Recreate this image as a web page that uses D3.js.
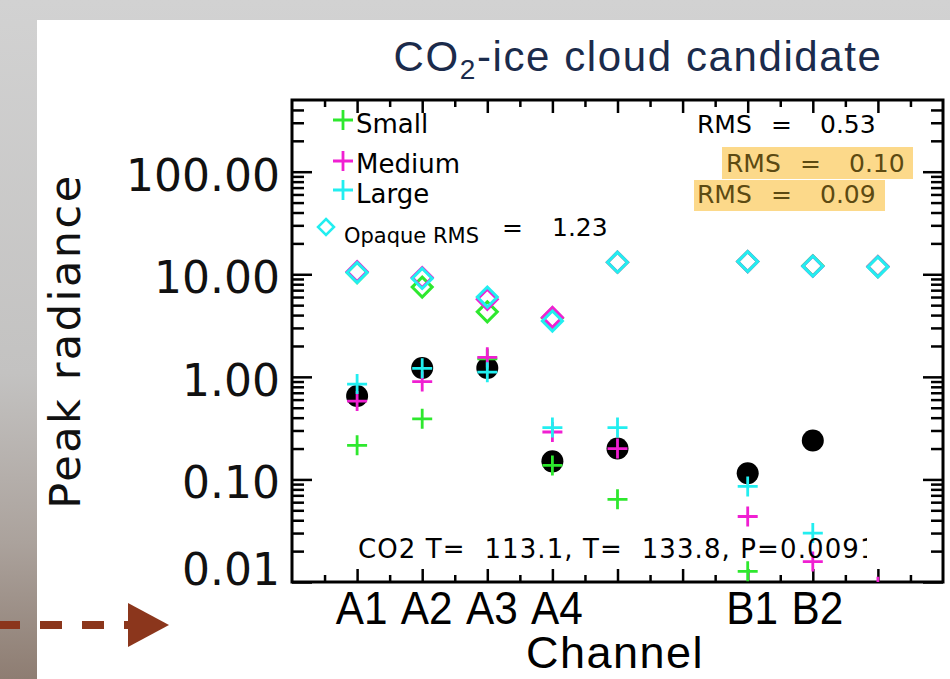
<!DOCTYPE html>
<html><head><meta charset="utf-8">
<script src="https://cdn.jsdelivr.net/npm/d3@7"></script>
<style>body{margin:0;background:#fff} svg{display:block}</style>
</head><body><svg id="c" width="950" height="679"></svg>
<script>
// ---- data ----
const channels = ["A1","A2","A3","A4","A5","B1","B2","B3"];
const channelPos = [1,2,3,4,5,7,8,9];
const tickChannels = ["A1","A2","A3","A4","B1","B2"];
const observed = [0.65, 1.22, 1.22, 0.15, 0.20, 0.115, 0.24, null];
const small    = [0.215, 0.39, 1.5, 0.137, 0.064, 0.0127, null, null];
const medium   = [0.58, 0.90, 1.55, 0.29, 0.20, 0.0435, 0.0158, 0.0090];
const large    = [0.85, 1.21, 1.11, 0.32, 0.32, 0.0855, 0.030, null];
const opaqueSmall  = [10.4, 7.5, 4.3, 3.75, 13.1, 13.3, 12.1, 11.9];
const opaqueMedium = [10.6, 9.3, 5.7, 3.8, 13.1, 13.3, 12.0, 11.9];
const opaqueLarge  = [10.4, 9.1, 6.0, 3.5, 13.1, 13.3, 12.0, 11.8];
const yTicks = [0.01, 0.1, 1, 10, 100];
const legendNames = ["Small","Medium","Large"];
const rmsValues = ["0.53","0.10","0.09"];
const opaqueRms = "1.23";
const fitText = "CO2 T=  113.1, T=  133.8, P=0.0091";

const colSmall = "#2ee82e", colMedium = "#f01fd2", colLarge = "#22eef0";

const svg = d3.select("#c");
const defs = svg.append("defs");
const bg = defs.append("linearGradient").attr("id","bg").attr("x1",0).attr("y1",0).attr("x2",0).attr("y2",1);
[["0%","#d2d2d2"],["55%","#c3c2c1"],["80%","#aba29c"],["100%","#8e7d72"]].forEach(s=>bg.append("stop").attr("offset",s[0]).attr("stop-color",s[1]));
svg.append("rect").attr("width",950).attr("height",679).attr("fill","url(#bg)");
svg.append("rect").attr("x",37).attr("y",20).attr("width",913).attr("height",659).attr("fill","#fff");

// arrow
const arrowY = 625;
svg.append("line").attr("x1",0).attr("x2",130).attr("y1",arrowY).attr("y2",arrowY)
  .attr("stroke","#8b361c").attr("stroke-width",8).attr("stroke-dasharray","22,20").attr("stroke-dashoffset",2);
svg.append("path").attr("d",`M128,${arrowY-22}L169,${arrowY}L128,${arrowY+22}Z`).attr("fill","#8b361c");

// title
const title = svg.append("text").attr("x",638).attr("y",71).attr("text-anchor","middle")
  .attr("font-family","Liberation Sans, Arial, sans-serif").attr("font-size",42).attr("letter-spacing",1.6).attr("fill","#1b2b4b");
title.append("tspan").text("CO");
title.append("tspan").attr("font-size",28).attr("dy",8).text("2");
title.append("tspan").attr("dy",-8).text("-ice cloud candidate");

const M = {left:292, right:943, top:100, bottom:582};
const x = d3.scaleLinear().domain([0,10]).range([M.left, M.right]);
const y = d3.scaleLog().domain([0.01, 500]).range([M.bottom, M.top]);

const minorY = [];
for (let e=-2; e<=2; e++) for (let m=2; m<=9; m++){ const v=+(m*Math.pow(10,e)).toPrecision(3); if (v<500) minorY.push(v); }
const majorX = d3.range(1,10);
const minorX = d3.range(0.5,10,1);

function styleAxis(g){ g.select(".domain").remove(); g.selectAll(".tick line").attr("stroke","#000").attr("stroke-width",2.5); }

// left / right axes
svg.append("g").attr("transform",`translate(${M.left},0)`)
  .call(d3.axisLeft(y).tickValues(yTicks).tickFormat(d3.format(".2f")).tickSize(-20).tickPadding(12))
  .call(styleAxis)
  .call(g=>g.selectAll("text").attr("font-family","DejaVu Sans, sans-serif").attr("font-size",44).attr("fill","#111").attr("dy","0.42em"))
  .call(g=>g.selectAll(".tick").filter(d=>d===0.01).select("text").attr("dy","0.05em"));
svg.append("g").attr("transform",`translate(${M.left},0)`)
  .call(d3.axisLeft(y).tickValues(minorY).tickFormat("").tickSize(-12)).call(styleAxis);
svg.append("g").attr("transform",`translate(${M.right},0)`)
  .call(d3.axisRight(y).tickValues(yTicks).tickFormat("").tickSize(-20)).call(styleAxis);
svg.append("g").attr("transform",`translate(${M.right},0)`)
  .call(d3.axisRight(y).tickValues(minorY).tickFormat("").tickSize(-12)).call(styleAxis);

// bottom / top axes
svg.append("g").attr("transform",`translate(0,${M.bottom})`)
  .call(d3.axisBottom(x).tickValues(majorX).tickFormat("").tickSize(-13)).call(styleAxis);
svg.append("g").attr("transform",`translate(0,${M.bottom})`)
  .call(d3.axisBottom(x).tickValues(minorX).tickFormat("").tickSize(-7)).call(styleAxis);
svg.append("g").attr("transform",`translate(0,${M.top})`)
  .call(d3.axisTop(x).tickValues(majorX).tickFormat("").tickSize(-13)).call(styleAxis);
svg.append("g").attr("transform",`translate(0,${M.top})`)
  .call(d3.axisTop(x).tickValues(minorX).tickFormat("").tickSize(-7)).call(styleAxis);

// category labels
const labPos = tickChannels.map(c=>channelPos[channels.indexOf(c)]);
svg.append("g").attr("transform",`translate(0,${M.bottom})`)
  .call(d3.axisBottom(x).tickValues(labPos).tickFormat(d=>channels[channelPos.indexOf(d)]).tickSize(0).tickPadding(9))
  .call(g=>g.select(".domain").remove())
  .call(g=>g.selectAll("text").attr("font-family","Liberation Sans, Arial, sans-serif").attr("font-size",47)
     .attr("fill","#000").attr("transform","translate(4,0) scale(0.9,1)"));

// frame
svg.append("rect").attr("x",M.left).attr("y",M.top).attr("width",M.right-M.left).attr("height",M.bottom-M.top)
  .attr("fill","none").attr("stroke","#000").attr("stroke-width",3);

// axis titles
svg.append("text").attr("x",615).attr("y",668).attr("text-anchor","middle")
  .attr("font-family","Liberation Sans, Arial, sans-serif").attr("font-size",45).attr("letter-spacing",1.5).text("Channel");
svg.append("text").attr("transform","translate(80,341) rotate(-90)").attr("text-anchor","middle")
  .attr("font-family","DejaVu Sans, sans-serif").attr("font-size",43).attr("letter-spacing",2.5).attr("fill","#111").text("Peak radiance");

// plot marks
defs.append("clipPath").attr("id","clip").append("rect")
  .attr("x",M.left).attr("y",M.top).attr("width",M.right-M.left).attr("height",M.bottom-M.top);
const plot = svg.append("g").attr("clip-path","url(#clip)");

const diamondPath = "M0,-10L10,0L0,10L-10,0Z";
const plusPath = "M-10,0H10M0,-10V10";
function pts(arr){ return arr.map((v,i)=>({x:channelPos[i], v})).filter(d=>d.v!=null); }

[[opaqueSmall,colSmall],[opaqueMedium,colMedium],[opaqueLarge,colLarge]].forEach(([arr,col])=>{
  plot.selectAll(null).data(pts(arr)).join("path").attr("d",diamondPath)
    .attr("transform",d=>`translate(${x(d.x)},${y(d.v)})`)
    .attr("fill","none").attr("stroke",col).attr("stroke-width",3);
});
plot.selectAll(null).data(pts(observed)).join("circle")
  .attr("cx",d=>x(d.x)).attr("cy",d=>y(d.v)).attr("r",11).attr("fill","#000");
[[small,colSmall],[medium,colMedium],[large,colLarge]].forEach(([arr,col])=>{
  plot.selectAll(null).data(pts(arr)).join("path").attr("d",plusPath)
    .attr("transform",d=>`translate(${x(d.x)},${y(d.v)})`)
    .attr("fill","none").attr("stroke",col).attr("stroke-width",2.8);
});

// legend
const legCols = [colSmall,colMedium,colLarge];
const legY = [120,161,190];
const legBase = [133,173,203];
legendNames.forEach((n,i)=>{
  svg.append("path").attr("d",plusPath).attr("transform",`translate(343,${legY[i]})`)
    .attr("stroke",legCols[i]).attr("stroke-width",2.8).attr("fill","none");
  svg.append("text").attr("x",356).attr("y",legBase[i]).attr("font-family","DejaVu Sans, sans-serif")
    .attr("font-size",26).attr("fill","#000").text(n);
});
svg.append("path").attr("d","M0,-8L8,0L0,8L-8,0Z").attr("transform","translate(326,227)")
  .attr("fill","none").attr("stroke",colLarge).attr("stroke-width",2.5);
svg.append("text").attr("x",344).attr("y",243).attr("font-family","DejaVu Sans, sans-serif").attr("font-size",21).text("Opaque RMS");
svg.append("text").attr("x",502).attr("y",236).attr("font-family","DejaVu Sans, sans-serif").attr("font-size",25).text("=");
svg.append("text").attr("x",552).attr("y",236).attr("font-family","DejaVu Sans, sans-serif").attr("font-size",25).text(opaqueRms);

// RMS labels
const hl = [null,{x:722,y:147,w:191,h:32},{x:694,y:180,w:191,h:31}];
const rmsX = [697,726,697];
const rmsBase = [133,172,203];
rmsValues.forEach((v,i)=>{
  const col = hl[i] ? "#5c4a12" : "#000";
  if (hl[i]) svg.append("rect").attr("x",hl[i].x).attr("y",hl[i].y).attr("width",hl[i].w).attr("height",hl[i].h).attr("fill","#fcd98a");
  const t = svg.append("g").attr("font-family","DejaVu Sans, sans-serif").attr("font-size",25).attr("fill",col);
  t.append("text").attr("x",rmsX[i]).attr("y",rmsBase[i]).text("RMS");
  t.append("text").attr("x",rmsX[i]+74).attr("y",rmsBase[i]).text("=");
  t.append("text").attr("x",rmsX[i]+123).attr("y",rmsBase[i]).text(v);
});

// fit text
defs.append("clipPath").attr("id","clipT").append("rect").attr("x",300).attr("y",500).attr("width",567).attr("height",80);
svg.append("text").attr("x",358).attr("y",558).attr("clip-path","url(#clipT)")
  .attr("font-family","DejaVu Sans, sans-serif").attr("font-size",26).attr("letter-spacing",1.1).attr("fill","#000")
  .attr("xml:space","preserve").style("white-space","pre").text(fitText);
</script></body></html>
